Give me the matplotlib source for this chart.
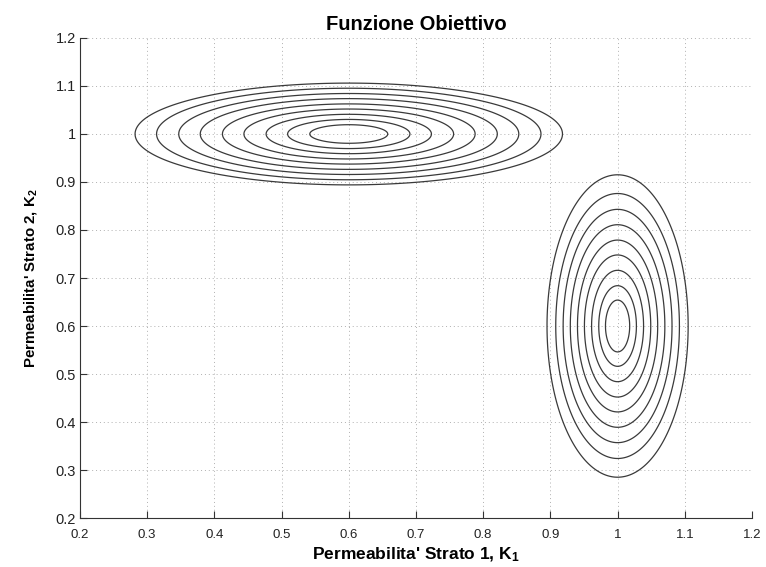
import numpy as np
import matplotlib
matplotlib.use("Agg")
import matplotlib.pyplot as plt
from matplotlib.ticker import FuncFormatter

plt.rcParams["font.family"] = ["Liberation Sans", "DejaVu Sans"]
plt.rcParams["mathtext.fontset"] = "custom"
plt.rcParams["mathtext.rm"] = "Liberation Sans"
plt.rcParams["mathtext.bf"] = "Liberation Sans:bold"

# Contour centres (K1, K2) and elongation of each family
centre_h = (0.6, 1.0)   # horizontal family, long along K1
centre_v = (1.0, 0.6)   # vertical family, long along K2
aspect = 3.0

# Semi-major axis of every contour
radii_h = [0.058, 0.091, 0.123, 0.156, 0.188, 0.221, 0.253, 0.286, 0.318]
radii_v = [0.054, 0.084, 0.116, 0.148, 0.179, 0.211, 0.243, 0.276, 0.315]

ticks = [0.2, 0.3, 0.4, 0.5, 0.6, 0.7, 0.8, 0.9, 1.0, 1.1, 1.2]

k1 = np.linspace(0.2, 1.2, 801)
k2 = np.linspace(0.2, 1.2, 801)
K1, K2 = np.meshgrid(k1, k2)

# distance-like objective for each basin
z_h = np.sqrt((K1 - centre_h[0]) ** 2 + (aspect * (K2 - centre_h[1])) ** 2)
z_v = np.sqrt((aspect * (K1 - centre_v[0])) ** 2 + (K2 - centre_v[1]) ** 2)

fig = plt.figure(figsize=(7.66, 5.67), dpi=100)
ax = fig.add_axes([0.1044, 0.0864, 0.8773, 0.8466])

ax.contour(K1, K2, z_h, levels=radii_h, colors="#3a3a3a", linewidths=0.9)
ax.contour(K1, K2, z_v, levels=radii_v, colors="#3a3a3a", linewidths=0.9)

ax.set_xlim(0.2, 1.2)
ax.set_ylim(0.2, 1.2)
ax.set_xticks(ticks)
ax.set_yticks(ticks)
fmt = FuncFormatter(lambda v, p: "%g" % round(v, 2))
ax.xaxis.set_major_formatter(fmt)
ax.yaxis.set_major_formatter(fmt)

ax.grid(True, linestyle=(0, (1, 3)), color="#b0b0b0", linewidth=0.7)
ax.spines["top"].set_visible(False)
ax.spines["right"].set_visible(False)
for s in ("left", "bottom"):
    ax.spines[s].set_color("#333333")
    ax.spines[s].set_linewidth(0.8)
ax.tick_params(direction="in", length=5, width=0.8, colors="#333333",
               labelcolor="#222222")
ax.tick_params(axis="x", labelsize=9.5, pad=8)
ax.tick_params(axis="y", labelsize=10.5, pad=3)

ax.set_title("Funzione Obiettivo", fontsize=14.5, fontweight="bold", pad=6)
ax.set_xlabel(r"Permeabilita' Strato 1, $\mathbf{K_1}$", fontsize=12.5, fontweight="bold", labelpad=3)
ax.set_ylabel(r"Permeabilita' Strato 2, $\mathbf{K_2}$", fontsize=10.8, fontweight="bold", labelpad=12)

fig.savefig("out.png", dpi=100)
